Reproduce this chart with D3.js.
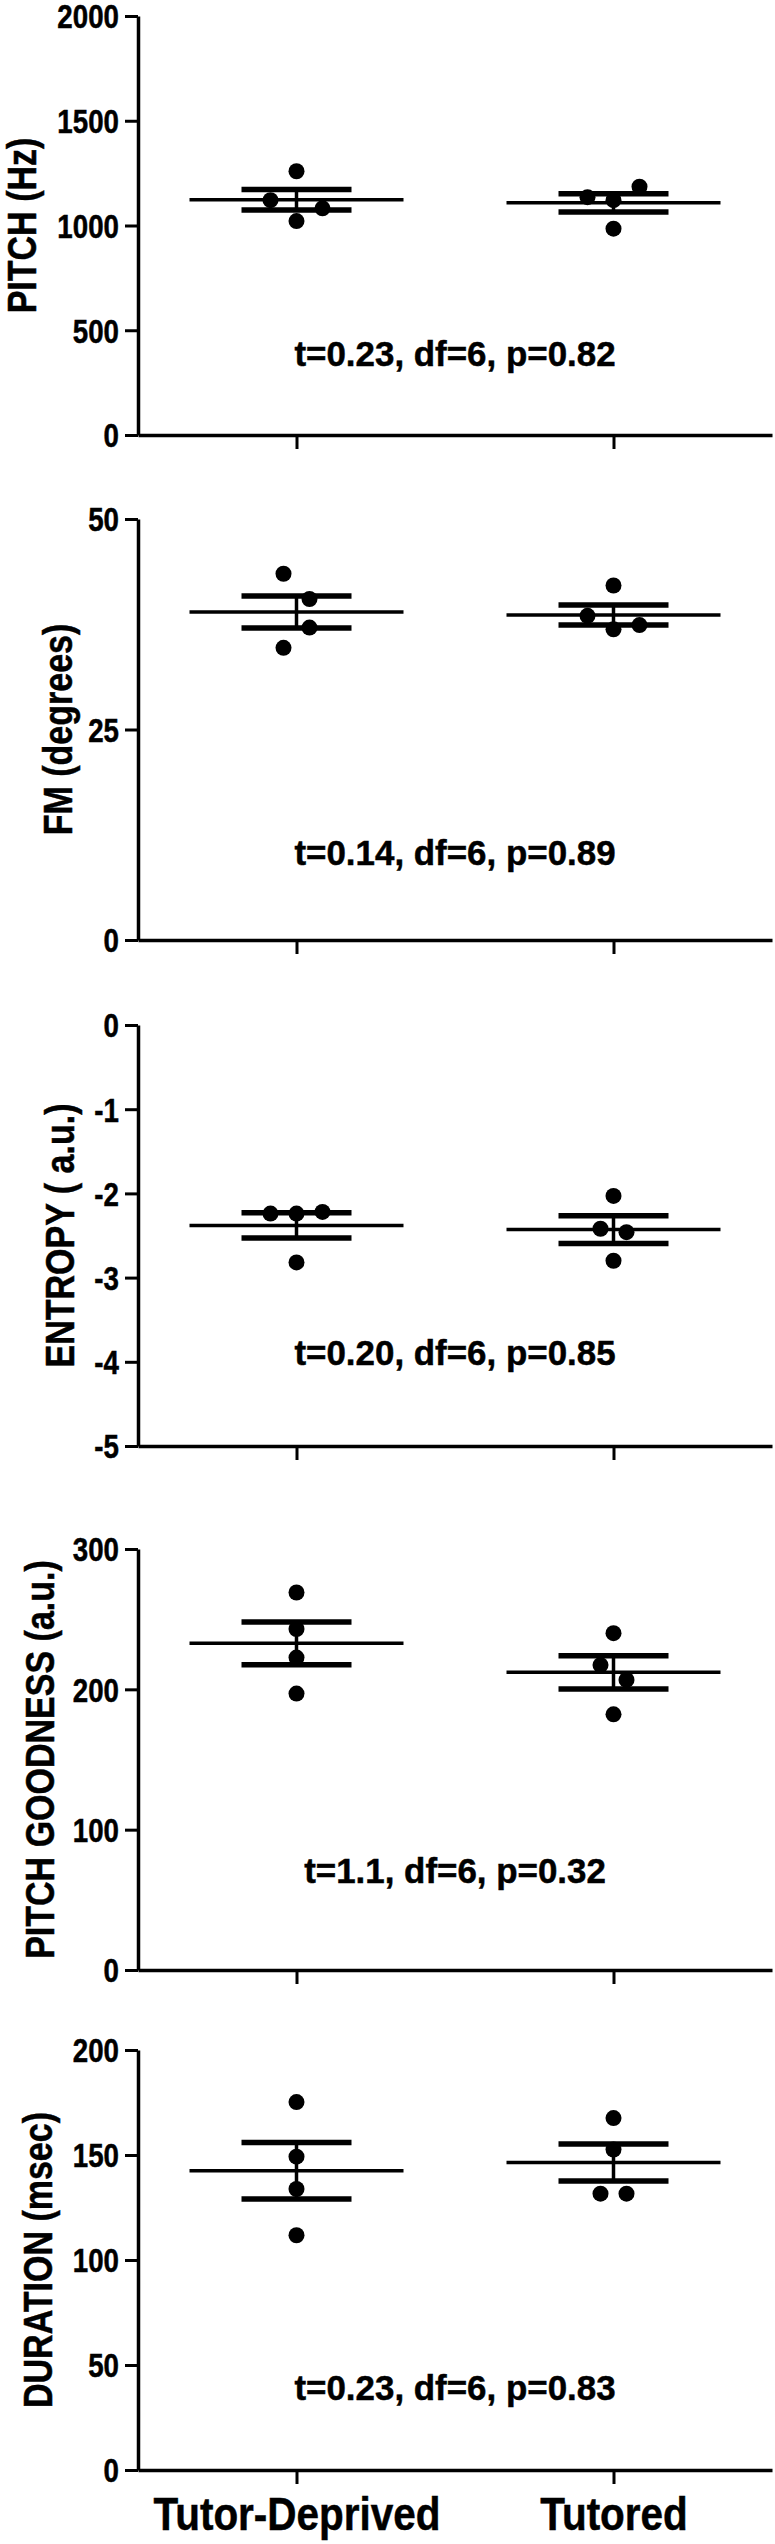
<!DOCTYPE html>
<html>
<head>
<meta charset="utf-8">
<script src="https://cdn.jsdelivr.net/npm/d3@7"></script>
<style>
  body { margin: 0; background: #fff; }
  svg text { font-family: "Liberation Sans", Arial, sans-serif; font-weight: bold; fill: #000; stroke: #000; stroke-width: 0.5px; }
</style>
</head>
<body>
<svg id="chart" width="775" height="2544"></svg>
<script>
const groups = ["Tutor-Deprived", "Tutored"];

// PITCH (Hz)
const pitchDeprived = [1259, 1121, 1082, 1021];
const pitchTutored = [1135, 1121, 1185, 985];
const pitchMean = [1123, 1108];
const pitchSem = [49, 43.5];
const pitchTicks = [0, 500, 1000, 1500, 2000];

// FM (degrees)
const fmDeprived = [43.5, 40.5, 37.1, 34.7];
const fmTutored = [42.1, 38.5, 37.4, 36.9];
const fmMean = [38.95, 38.6];
const fmSem = [1.9, 1.2];
const fmTicks = [0, 25, 50];

// ENTROPY (a.u.)
const entropyDeprived = [-2.24, -2.24, -2.22, -2.82];
const entropyTutored = [-2.03, -2.42, -2.46, -2.8];
const entropyMean = [-2.38, -2.43];
const entropySem = [0.15, 0.165];
const entropyTicks = [-5, -4, -3, -2, -1, 0];

// PITCH GOODNESS (a.u.)
const goodDeprived = [269, 243, 222.6, 197];
const goodTutored = [240, 217.3, 206.7, 182.2];
const goodMean = [232.8, 212.1];
const goodSem = [15.2, 11.8];
const goodTicks = [0, 100, 200, 300];

// DURATION (msec)
const durDeprived = [175.2, 149.2, 133.8, 111.8];
const durTutored = [167.6, 152.6, 131.6, 131.6];
const durMean = [142.5, 146.4];
const durSem = [13.4, 8.8];
const durTicks = [0, 50, 100, 150, 200];

const yLabels = ["PITCH (Hz)", "FM (degrees)", "ENTROPY ( a.u.)", "PITCH GOODNESS (a.u.)", "DURATION (msec)"];
const statTexts = [
  "t=0.23, df=6, p=0.82",
  "t=0.14, df=6, p=0.89",
  "t=0.20, df=6, p=0.85",
  "t=1.1, df=6, p=0.32",
  "t=0.23, df=6, p=0.83"
];

// horizontal spread of overlapping points (in dot widths)
const spreadDeprived = [[0, -1, 1, 0], [-0.5, 0.5, 0.5, -0.5], [-1, 0, 1, 0], [0, 0, 0, 0], [0, 0, 0, 0]];
const spreadTutored = [[-1, 0, 1, 0], [0, -1, 1, 0], [0, -0.5, 0.5, 0], [0, -0.5, 0.5, 0], [0, 0, -0.5, 0.5]];

// layout
const panelTop = [16, 519, 1025, 1549, 2050];
const panelBottom = [435, 940, 1446, 1970, 2470];
const statBaseline = [366, 865, 1365, 1883, 2400];
const labelX = [36, 72, 74, 54, 52];
const axisX = 138;
const rightX = 772;

const panels = [
  { values: [pitchDeprived, pitchTutored], mean: pitchMean, sem: pitchSem, ticks: pitchTicks },
  { values: [fmDeprived, fmTutored], mean: fmMean, sem: fmSem, ticks: fmTicks },
  { values: [entropyDeprived, entropyTutored], mean: entropyMean, sem: entropySem, ticks: entropyTicks },
  { values: [goodDeprived, goodTutored], mean: goodMean, sem: goodSem, ticks: goodTicks },
  { values: [durDeprived, durTutored], mean: durMean, sem: durSem, ticks: durTicks }
];

const svg = d3.select("#chart");
const x = d3.scalePoint().domain(groups).range([axisX, rightX]).padding(0.5);

panels.forEach((p, i) => drawPanel(p, i));

function drawPanel(p, i) {
  const y = d3.scaleLinear()
    .domain(d3.extent(p.ticks))
    .range([panelBottom[i], panelTop[i]]);
  const g = svg.append("g").attr("class", "panel");
  const isLast = i === panels.length - 1;

  // y axis
  const yAxis = g.append("g")
    .attr("transform", `translate(${axisX},0)`)
    .call(d3.axisLeft(y).tickValues(p.ticks).tickSize(13).tickSizeOuter(0).tickFormat((d) => String(d)));
  yAxis.select(".domain").attr("stroke-width", 3.5);
  yAxis.selectAll(".tick line").attr("stroke-width", 3);
  yAxis.selectAll(".tick text")
    .attr("x", null)
    .attr("dy", "0.36em")
    .attr("font-size", 33)
    .attr("font-family", null)
    .attr("transform", "translate(-19,0) scale(0.84,1)");

  // x axis
  const xAxis = g.append("g")
    .attr("transform", `translate(0,${panelBottom[i]})`)
    .call(d3.axisBottom(x).tickSize(14).tickSizeOuter(0).tickFormat(isLast ? null : ""));
  xAxis.select(".domain").attr("stroke-width", 3.5);
  xAxis.selectAll(".tick line").attr("stroke-width", 3);
  xAxis.selectAll(".tick text")
    .attr("y", null)
    .attr("dy", null)
    .attr("font-size", 46)
    .attr("font-family", null)
    .attr("transform", "translate(0,60) scale(0.88,1)");

  // y label
  g.append("text")
    .attr("text-anchor", "middle")
    .attr("font-size", 41)
    .attr("transform", `translate(${labelX[i]},${(panelTop[i] + panelBottom[i]) / 2}) rotate(-90) scale(0.83,1)`)
    .text(yLabels[i]);

  // mean and SEM
  const stats = groups.map((grp, k) => ({ grp, mean: p.mean[k], sem: p.sem[k] }));

  g.selectAll("line.sem")
    .data(stats)
    .enter()
    .append("line")
    .attr("class", "sem")
    .attr("x1", (d) => x(d.grp))
    .attr("x2", (d) => x(d.grp))
    .attr("y1", (d) => y(d.mean - d.sem))
    .attr("y2", (d) => y(d.mean + d.sem))
    .attr("stroke", "#000")
    .attr("stroke-width", 3.5);

  const caps = stats.flatMap((d) => [
    { grp: d.grp, v: d.mean - d.sem },
    { grp: d.grp, v: d.mean + d.sem }
  ]);
  g.selectAll("line.cap")
    .data(caps)
    .enter()
    .append("line")
    .attr("class", "cap")
    .attr("x1", (d) => x(d.grp) - 55)
    .attr("x2", (d) => x(d.grp) + 55)
    .attr("y1", (d) => y(d.v))
    .attr("y2", (d) => y(d.v))
    .attr("stroke", "#000")
    .attr("stroke-width", 5.5);

  g.selectAll("line.mean")
    .data(stats)
    .enter()
    .append("line")
    .attr("class", "mean")
    .attr("x1", (d) => x(d.grp) - 107)
    .attr("x2", (d) => x(d.grp) + 107)
    .attr("y1", (d) => y(d.mean))
    .attr("y2", (d) => y(d.mean))
    .attr("stroke", "#000")
    .attr("stroke-width", 3.5);

  // points
  const spreads = [spreadDeprived[i], spreadTutored[i]];
  const points = groups.flatMap((grp, k) =>
    p.values[k].map((v, j) => ({ grp, v, s: spreads[k][j] }))
  );
  g.selectAll("circle.dot")
    .data(points)
    .enter()
    .append("circle")
    .attr("class", "dot")
    .attr("cx", (d) => x(d.grp) + d.s * 26)
    .attr("cy", (d) => y(d.v))
    .attr("r", 8)
    .attr("fill", "#000");

  // t-test text
  g.append("text")
    .attr("text-anchor", "middle")
    .attr("font-size", 36)
    .attr("transform", `translate(455,${statBaseline[i]}) scale(0.97,1)`)
    .text(statTexts[i]);
}
</script>
</body>
</html>
